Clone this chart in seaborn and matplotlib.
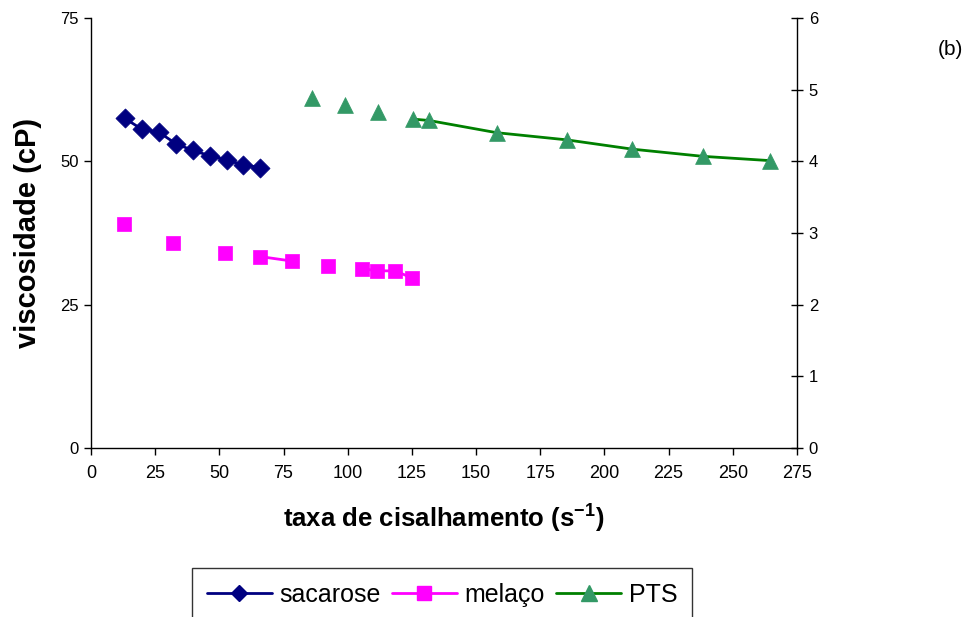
import matplotlib
matplotlib.use("Agg")
import matplotlib.pyplot as plt
from matplotlib.lines import Line2D
import seaborn as sns
import pandas as pd

# ---- data ----
sacarose_x = [13.2, 19.8, 26.4, 33.0, 39.6, 46.2, 52.8, 59.4, 66.0]
sacarose_y = [57.5, 55.6, 55.1, 53.1, 51.9, 51.0, 50.2, 49.4, 48.9]
sacarose_seg = [0, 0, 0, 0, 0, 0, 0, 0, 0]

melaco_x = [13.0, 32.1, 52.2, 65.8, 78.4, 92.2, 105.7, 111.3, 118.4, 124.9]
melaco_y = [39.1, 35.8, 34.1, 33.4, 32.6, 31.7, 31.3, 30.9, 30.9, 29.7]
melaco_seg = [0, 1, 2, 3, 3, 4, 5, 5, 5, 5]

pts_x = [86.2, 98.9, 111.7, 125.3, 131.7, 158.0, 185.3, 210.9, 238.3, 264.5]
pts_y = [4.89, 4.79, 4.69, 4.59, 4.57, 4.40, 4.30, 4.17, 4.07, 4.01]
pts_seg = [0, 1, 2, 3, 3, 3, 3, 3, 3, 3]

x_ticks = [0, 25, 50, 75, 100, 125, 150, 175, 200, 225, 250, 275]
y_ticks_left = [0, 25, 50, 75]
y_ticks_right = [0, 1, 2, 3, 4, 5, 6]
labels = ["sacarose", "melaço", "PTS"]

sns.set_style("white")
plt.rcParams["font.family"] = ["Liberation Sans", "DejaVu Sans"]
plt.rcParams["text.color"] = "black"
plt.rcParams["axes.labelcolor"] = "black"
plt.rcParams["xtick.color"] = "black"
plt.rcParams["ytick.color"] = "black"

df_s = pd.DataFrame({"x": sacarose_x, "y": sacarose_y, "seg": sacarose_seg})
df_m = pd.DataFrame({"x": melaco_x, "y": melaco_y, "seg": melaco_seg})
df_p = pd.DataFrame({"x": pts_x, "y": pts_y, "seg": pts_seg})

fig = plt.figure(figsize=(9.78, 6.17), dpi=100)
ax = fig.add_axes([0.0930, 0.2739, 0.7219, 0.6969])
ax2 = ax.twinx()

c_s, c_m, c_pl, c_pm = "#000080", "#FF00FF", "#008000", "#339966"

sns.lineplot(data=df_s, x="x", y="y", units="seg", estimator=None, sort=False,
             color=c_s, lw=2, ax=ax, legend=False)
sns.scatterplot(data=df_s, x="x", y="y", marker="D", s=95, color=c_s,
                edgecolor=c_s, linewidth=0.5, ax=ax, legend=False, zorder=3)

sns.lineplot(data=df_m, x="x", y="y", units="seg", estimator=None, sort=False,
             color=c_m, lw=2, ax=ax, legend=False)
sns.scatterplot(data=df_m, x="x", y="y", marker="s", s=100, color=c_m,
                edgecolor=c_m, linewidth=0.5, ax=ax, legend=False, zorder=3)

sns.lineplot(data=df_p, x="x", y="y", units="seg", estimator=None, sort=False,
             color=c_pl, lw=2, ax=ax2, legend=False)
sns.scatterplot(data=df_p, x="x", y="y", marker="^", s=130, color=c_pm,
                edgecolor=c_pm, linewidth=0.5, ax=ax2, legend=False, zorder=3)

ax.set_xlim(0, 275)
ax.set_ylim(0, 75)
ax2.set_ylim(0, 6)
ax.set_xticks(x_ticks)
ax.set_yticks(y_ticks_left)
ax2.set_yticks(y_ticks_right)

for a in (ax, ax2):
    a.spines["top"].set_visible(False)
    for sp in a.spines.values():
        sp.set_linewidth(1.0)
        sp.set_color("black")
ax.spines["right"].set_visible(False)
ax2.spines["left"].set_visible(False)
ax2.spines["bottom"].set_visible(False)

ax.tick_params(axis="x", direction="out", length=5, width=1, labelsize=13, pad=7,
               bottom=True)
ax.tick_params(axis="y", direction="out", length=5, width=1, labelsize=12, pad=4,
               left=True)
ax2.tick_params(axis="y", direction="inout", length=9, width=1, labelsize=12, pad=4,
                right=True)

ax.set_xlabel("taxa de cisalhamento (s$^{\\mathregular{-1}}$)", fontsize=18.5,
              fontweight="bold", labelpad=14)
ax.set_ylabel("viscosidade (cP)", fontsize=21, fontweight="bold", labelpad=13)
ax2.set_ylabel("")

fig.text(0.972, 0.919, "(b)", fontsize=15, ha="center", va="center")

handles = [
    Line2D([], [], color=c_s, lw=2, marker="D", markersize=8, markerfacecolor=c_s, markeredgecolor=c_s),
    Line2D([], [], color=c_m, lw=2, marker="s", markersize=10, markerfacecolor=c_m, markeredgecolor=c_m),
    Line2D([], [], color=c_pl, lw=2, marker="^", markersize=12, markerfacecolor=c_pm, markeredgecolor=c_pm),
]
leg = fig.legend(handles, labels, loc="upper center", bbox_to_anchor=(442 / 978, 1 - 568 / 617),
                 ncol=3, fontsize=18, frameon=True, fancybox=False,
                 handlelength=2.6, handletextpad=0.3, columnspacing=0.45,
                 borderpad=0.6, borderaxespad=0)
leg.get_frame().set_edgecolor("black")
leg.get_frame().set_linewidth(1.0)

fig.savefig("out.png", dpi=100)
